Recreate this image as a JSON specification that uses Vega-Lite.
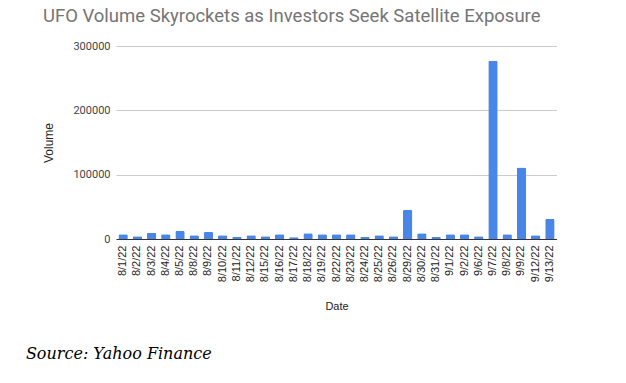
{
  "$schema": "https://vega.github.io/schema/vega-lite/v6.json",
  "padding": {"left": 25, "top": 6, "right": 0, "bottom": 0},
  "autosize": {"type": "pad"},
  "background": "white",
  "config": {"view": {"stroke": null}, "font": "Roboto", "concat": {"spacing": 0}},
  "title": {"text": "Source: Yahoo Finance", "orient": "bottom", "anchor": "start", "frame": "bounds", "font": "DejaVu Serif", "fontStyle": "italic", "fontWeight": "normal", "fontSize": 16, "color": "#000000", "offset": 34, "dx": -17},
  "vconcat": [
    {
      "width": 441,
      "height": 193,
      "title": {"text": "UFO Volume Skyrockets as Investors Seek Satellite Exposure", "anchor": "start", "frame": "bounds", "fontSize": 18.5, "font": "Roboto", "fontWeight": "normal", "color": "#757575", "offset": 15, "dx": 0},
      "data": {"values": [
        {"date": "8/1/22", "volume": 7300},
        {"date": "8/2/22", "volume": 4200},
        {"date": "8/3/22", "volume": 9800},
        {"date": "8/4/22", "volume": 7300},
        {"date": "8/5/22", "volume": 12400},
        {"date": "8/8/22", "volume": 5700},
        {"date": "8/9/22", "volume": 10900},
        {"date": "8/10/22", "volume": 5700},
        {"date": "8/11/22", "volume": 3100},
        {"date": "8/12/22", "volume": 5700},
        {"date": "8/15/22", "volume": 4200},
        {"date": "8/16/22", "volume": 7300},
        {"date": "8/17/22", "volume": 2600},
        {"date": "8/18/22", "volume": 8800},
        {"date": "8/19/22", "volume": 7300},
        {"date": "8/22/22", "volume": 7300},
        {"date": "8/23/22", "volume": 7300},
        {"date": "8/24/22", "volume": 3100},
        {"date": "8/25/22", "volume": 5700},
        {"date": "8/26/22", "volume": 4200},
        {"date": "8/29/22", "volume": 45000},
        {"date": "8/30/22", "volume": 8800},
        {"date": "8/31/22", "volume": 3100},
        {"date": "9/1/22", "volume": 7300},
        {"date": "9/2/22", "volume": 7300},
        {"date": "9/6/22", "volume": 4200},
        {"date": "9/7/22", "volume": 277000},
        {"date": "9/8/22", "volume": 7300},
        {"date": "9/9/22", "volume": 111000},
        {"date": "9/12/22", "volume": 5700},
        {"date": "9/13/22", "volume": 31000}
      ]},
      "mark": {"type": "bar", "color": "#4a86e8", "cornerRadiusTopLeft": 1.5, "cornerRadiusTopRight": 1.5},
      "encoding": {
        "x": {
          "field": "date", "type": "ordinal", "sort": null, "title": "Date",
          "scale": {"paddingInner": 0.34, "paddingOuter": 0.17},
          "axis": {"labelAngle": 270, "labelFontSize": 11, "labelColor": "#222222", "labelPadding": 6, "ticks": false, "domainColor": "#333333", "domainWidth": 1, "titleFontWeight": "normal", "titleFontSize": 11, "titleColor": "#222222", "titlePadding": 19, "labelFont": "Liberation Sans", "titleFont": "Liberation Sans"}
        },
        "y": {
          "field": "volume", "type": "quantitative", "title": "Volume",
          "scale": {"domain": [0, 300000]},
          "axis": {"values": [0, 100000, 200000, 300000], "format": "d", "domain": false, "ticks": false, "gridColor": "#cccccc", "labelColor": "#444444", "labelFontSize": 11, "labelPadding": 6, "titleFontWeight": "normal", "titleFontSize": 12, "titleColor": "#222222", "titlePadding": 17, "titleFont": "Liberation Sans"}
        }
      }
    }
  ]
}
